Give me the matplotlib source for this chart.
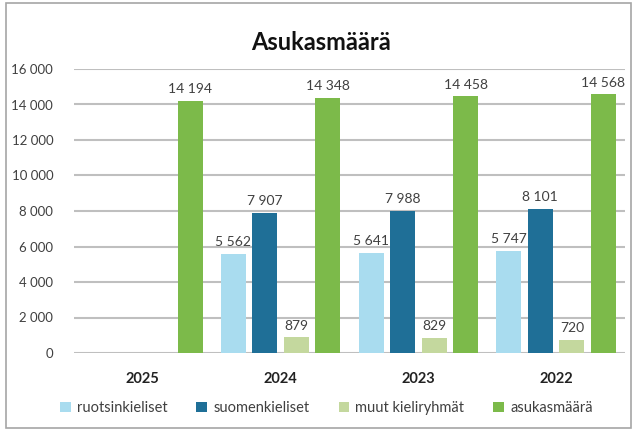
import numpy as np
from matplotlib import pyplot as plt
from matplotlib.patches import Rectangle

# Vuodet ja sarjat
vuodet = ["2025", "2024", "2023", "2022"]
ruotsinkieliset = [np.nan, 5562, 5641, 5747]
suomenkieliset = [np.nan, 7907, 7988, 8101]
muut = [np.nan, 879, 829, 720]
asukasmaara = [14194, 14348, 14458, 14568]

sarjat = [
    ("ruotsinkieliset", ruotsinkieliset, "#a9dcef"),
    ("suomenkieliset", suomenkieliset, "#1f6f97"),
    ("muut kieliryhmät", muut, "#c4d89e"),
    ("asukasmäärä", asukasmaara, "#7cba4a"),
]

plt.rcParams['font.family'] = ['Lato', 'DejaVu Sans']

fig = plt.figure(figsize=(6.35, 4.32), dpi=100)
ax = fig.add_axes([74/635, 1-353/432, 551/635, 284/432])

x = np.arange(len(vuodet))
slot = 0.229
lev = 0.182
for k, (nimi, arvot, vari) in enumerate(sarjat):
    pos = x + (k - 1.5) * slot
    ax.bar(pos, arvot, width=lev, color=vari, label=nimi, zorder=3)
    for p, v in zip(pos, arvot):
        if np.isnan(v):
            continue
        ax.text(p, v + 330, f"{int(v):,}".replace(",", " "), ha="center", va="bottom",
                fontsize=10, color="#404040")

ax.set_xlim(-0.5, 3.5)
ax.set_ylim(0, 16000)
ax.set_yticks(range(0, 16001, 2000))
ax.set_yticklabels([f"{t:,}".replace(",", " ") for t in range(0, 16001, 2000)])
ax.grid(axis="y", color="#bfbfbf", linewidth=1.5, zorder=0)
for s in ax.spines.values():
    s.set_visible(False)
ax.tick_params(axis="y", length=0, labelsize=9.5, labelcolor="#404040", pad=15)
ax.set_xticks(x)
ax.set_xticklabels(vuodet, fontweight="bold", fontsize=10.5, color="#222222")
ax.tick_params(axis="x", length=0, pad=14)

fig.text(0.505, 1-42/432, "Asukasmäärä", ha="center", va="center",
         fontsize=17, fontweight="bold", color="#111111")

fig.legend(loc="center", bbox_to_anchor=(0.514, 1-408/432), ncol=4, frameon=False,
           fontsize=10.5, handlelength=0.75, handleheight=0.75, handletextpad=0.4,
           columnspacing=2.0, labelcolor="#404040")

fig.patches.append(Rectangle((6/635, 1-428/432), 625/635, 425/432, transform=fig.transFigure,
                             fill=False, edgecolor="#a6a6a6", linewidth=1.2))

fig.savefig("out.png", dpi=100)
